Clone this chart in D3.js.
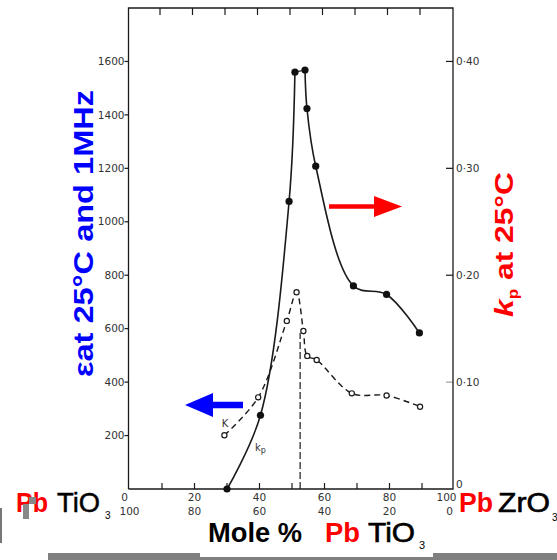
<!DOCTYPE html>
<html>
<head>
<meta charset="utf-8">
<script src="https://cdn.jsdelivr.net/npm/d3@7/dist/d3.min.js"></script>
<style>
html,body{margin:0;padding:0;background:#fff;}
svg{display:block;}
</style>
</head>
<body>
<svg id="chart" width="557" height="560"></svg>
<script>
// ---- data ----
const kpMole = [30, 40.3, 49.1, 50.9, 54.0, 54.6, 57.3, 68.9, 79.1, 89.2];
const kpValues = [0.000, 0.069, 0.269, 0.390, 0.392, 0.356, 0.302, 0.190, 0.182, 0.146];
const epsMole = [29.2, 39.6, 48.4, 51.4, 53.5, 54.7, 57.6, 68.4, 79.1, 89.4];
const epsValues = [201, 343, 629, 736, 591, 498, 483, 358, 350, 308];
const boundaryMole = 52.5;
const boundaryTop = 584;
const leftTicks = [200, 400, 600, 800, 1000, 1200, 1400, 1600];
const rightTicks = [0, 0.10, 0.20, 0.30, 0.40];
const rightTickLabels = ["0", "0·10", "0·20", "0·30", "0·40"];
const bottomTicks = [0, 20, 40, 60, 80, 100];
const bottomLabelsTop = ["0", "20", "40", "60", "80", "100"];
const bottomLabelsBottom = ["100", "80", "60", "40", "20", "0"];
const minorTicks = [10, 20, 30, 40, 50, 60, 70, 80, 90];

const svg = d3.select("#chart");
const x = d3.scaleLinear().domain([0, 100]).range([129.5, 454.5]);
const yL = d3.scaleLinear().domain([0, 1800]).range([489, 8]);
const yR = d3.scaleLinear().domain([0, 0.45]).range([489, 8]);

const ink = "#1a1a1a";
const tickFont = "'DejaVu Sans', sans-serif";

// frame
const fx0 = 128.5, fx1 = 453, fy0 = 8, fy1 = 489;
svg.append("path")
  .attr("d", `M${fx0},${fy1}V${fy0}H${fx1}V${fy1}H${fx0}`)
  .attr("fill", "none").attr("stroke", ink).attr("stroke-width", 1.3);

// top ticks (down)
svg.append("g").selectAll("line").data(minorTicks).join("line")
  .attr("x1", d => x(d) - 2).attr("x2", d => x(d) - 2)
  .attr("y1", fy0).attr("y2", fy0 + 7)
  .attr("stroke", ink).attr("stroke-width", 1.2);
// bottom ticks (up)
svg.append("g").selectAll("line").data(minorTicks).join("line")
  .attr("x1", d => x(d)).attr("x2", d => x(d))
  .attr("y1", fy1).attr("y2", fy1 - 6)
  .attr("stroke", ink).attr("stroke-width", 1.2);

// left axis ticks
const gl = svg.append("g");
gl.selectAll("line").data(leftTicks).join("line")
  .attr("x1", fx0 - 4).attr("x2", fx0)
  .attr("y1", d => yL(d)).attr("y2", d => yL(d))
  .attr("stroke", ink).attr("stroke-width", 1.2);
gl.selectAll("text").data(leftTicks).join("text")
  .attr("x", fx0 - 4).attr("y", d => yL(d)).attr("dy", "0.35em")
  .attr("text-anchor", "end")
  .attr("font-family", tickFont).attr("font-size", 10.5)
  .attr("fill", "#333").text(d => d);

// right axis ticks
const gr = svg.append("g");
gr.selectAll("line").data(rightTicks.filter(d => d > 0)).join("line")
  .attr("x1", fx1 - 7).attr("x2", fx1)
  .attr("y1", d => yR(d)).attr("y2", d => yR(d))
  .attr("stroke", ink).attr("stroke-width", d => d === 0.10 ? 0.5 : 1.2);
gr.selectAll("text").data(rightTicks).join("text")
  .attr("x", fx1 + 3).attr("y", d => yR(d) - (d === 0 ? 5 : 0)).attr("dy", "0.35em")
  .attr("font-family", tickFont).attr("font-size", 10.5)
  .attr("fill", "#333").text((d, i) => rightTickLabels[i]);

// bottom labels
const gb = svg.append("g");
gb.selectAll("text.t").data(bottomTicks).join("text").attr("class", "t")
  .attr("x", d => x(d) - (d === 0 ? 5 : d === 100 ? 8 : 0)).attr("y", 501)
  .attr("text-anchor", "middle")
  .attr("font-family", tickFont).attr("font-size", 10.5)
  .attr("fill", "#333").text((d, i) => bottomLabelsTop[i]);
gb.selectAll("text.b").data(bottomTicks).join("text").attr("class", "b")
  .attr("x", d => x(d) - (d === 100 ? 5 : 0)).attr("y", 515)
  .attr("text-anchor", "middle")
  .attr("font-family", tickFont).attr("font-size", 10.5)
  .attr("fill", "#333").text((d, i) => bottomLabelsBottom[i]);

// vertical dashed boundary
svg.append("line")
  .attr("x1", x(boundaryMole)).attr("x2", x(boundaryMole))
  .attr("y1", yL(0)).attr("y2", yL(boundaryTop))
  .attr("stroke", ink).attr("stroke-width", 1.2)
  .attr("stroke-dasharray", "7,3");

// permittivity (dashed, open circles)
const epsData = epsMole.map((m, i) => [m, epsValues[i]]);
svg.append("path").datum(epsData)
  .attr("d", d3.line().x(d => x(d[0])).y(d => yL(d[1])).curve(d3.curveCatmullRom.alpha(0.5)))
  .attr("fill", "none").attr("stroke", ink).attr("stroke-width", 1.4)
  .attr("stroke-dasharray", "6,4");
svg.append("g").selectAll("circle").data(epsData).join("circle")
  .attr("cx", d => x(d[0])).attr("cy", d => yL(d[1])).attr("r", 2.6)
  .attr("fill", "#fff").attr("stroke", ink).attr("stroke-width", 1.2);

// kp (solid, filled circles)
const kpData = kpMole.map((m, i) => [m, kpValues[i]]);
const kpLine = d3.line().x(d => x(d[0])).y(d => yR(d[1])).curve(d3.curveCatmullRom.alpha(0.5));
svg.append("path").datum(kpData.slice(0, 4))
  .attr("d", kpLine).attr("fill", "none").attr("stroke", ink).attr("stroke-width", 1.6);
svg.append("path").datum(kpData.slice(3, 5))
  .attr("d", d3.line().x(d => x(d[0])).y(d => yR(d[1])))
  .attr("fill", "none").attr("stroke", ink).attr("stroke-width", 1.2);
svg.append("path").datum(kpData.slice(4))
  .attr("d", kpLine).attr("fill", "none").attr("stroke", ink).attr("stroke-width", 1.6);
svg.append("g").selectAll("circle").data(kpData).join("circle")
  .attr("cx", d => x(d[0])).attr("cy", d => yR(d[1])).attr("r", 3.6)
  .attr("fill", "#111");

// small curve labels
svg.append("text").attr("x", 225).attr("y", 427).attr("text-anchor", "middle")
  .attr("font-family", tickFont).attr("font-size", 10).attr("fill", "#333").text("K");
const kpl = svg.append("text").attr("x", 255).attr("y", 451)
  .attr("font-family", tickFont).attr("font-size", 10).attr("fill", "#333");
kpl.append("tspan").text("k");
kpl.append("tspan").attr("dy", 2).attr("font-size", 8).text("p");

// arrows
svg.append("path")
  .attr("d", "M329,204.3H374V196L402,206.5L374,217V208.7H329Z")
  .attr("fill", "#ff0000");
svg.append("path")
  .attr("d", "M243,401.7H213V393L185,405L213,417V408.3H243Z")
  .attr("fill", "#0000ff");

// axis titles
svg.append("text")
  .attr("transform", "translate(93,233.5) rotate(-90)")
  .attr("text-anchor", "middle")
  .attr("font-family", "'Liberation Sans', Arial, sans-serif")
  .attr("font-weight", "bold").attr("font-size", 28)
  .attr("fill", "#0000ff")
  .attr("textLength", 287).attr("lengthAdjust", "spacingAndGlyphs")
  .text("εat 25°C and 1MHz");

const rt = svg.append("text")
  .attr("transform", "translate(513,244.5) rotate(-90)")
  .attr("text-anchor", "middle")
  .attr("font-family", "'Liberation Sans', Arial, sans-serif")
  .attr("font-weight", "bold").attr("font-size", 26)
  .attr("fill", "#ff0000")
  .attr("textLength", 145).attr("lengthAdjust", "spacingAndGlyphs");
rt.append("tspan").attr("font-style", "italic").text("k");
rt.append("tspan").attr("font-size", 14).attr("dy", 5).text("p");
rt.append("tspan").attr("dy", -5).text(" at 25°C");

// compound labels
function compound(items) {
  items.forEach(it => {
    svg.append("text")
      .attr("x", it.x).attr("y", it.y)
      .attr("font-family", "'Liberation Sans', Arial, sans-serif")
      .attr("font-weight", it.w || "normal")
      .attr("font-size", it.s)
      .attr("fill", it.c || "#000")
      .attr("stroke", it.st ? (it.c || "#000") : null)
      .attr("stroke-width", it.st || null)
      .attr("textLength", it.len || null)
      .attr("lengthAdjust", it.len ? "spacingAndGlyphs" : null)
      .text(it.t);
  });
}
compound([
  {t: "Pb", x: 16, y: 512, s: 28, w: "bold", c: "#ff0000", len: 32},
  {t: "TiO", x: 57, y: 512, s: 28, st: 0.5, len: 43},
  {t: "3", x: 105, y: 519, s: 10},
  {t: "Mole %", x: 208, y: 542, s: 27, w: "bold", len: 94},
  {t: "Pb", x: 325, y: 542, s: 27, w: "bold", c: "#ff0000", len: 35},
  {t: "TiO", x: 368, y: 542, s: 27, st: 0.6, len: 47},
  {t: "3", x: 419, y: 549, s: 11},
  {t: "Pb", x: 459, y: 512, s: 27, w: "bold", c: "#ff0000", len: 34},
  {t: "ZrO", x: 498, y: 512, s: 27, st: 0.6, len: 52},
  {t: "3", x: 552, y: 521, s: 10}
]);

// scan artifacts
svg.append("rect").attr("x", 29).attr("y", 497).attr("width", 7).attr("height", 7).attr("fill", "#888");
svg.append("rect").attr("x", 23).attr("y", 504).attr("width", 6).attr("height", 15).attr("fill", "#888");
svg.append("rect").attr("x", 0).attr("y", 508).attr("width", 2).attr("height", 35).attr("fill", "#777");
svg.append("rect").attr("x", 48).attr("y", 553).attr("width", 152).attr("height", 7).attr("fill", "#808080");
svg.append("rect").attr("x", 200).attr("y", 557).attr("width", 233).attr("height", 3).attr("fill", "#808080");
svg.append("rect").attr("x", 433).attr("y", 553).attr("width", 124).attr("height", 7).attr("fill", "#808080");
</script>
</body>
</html>
